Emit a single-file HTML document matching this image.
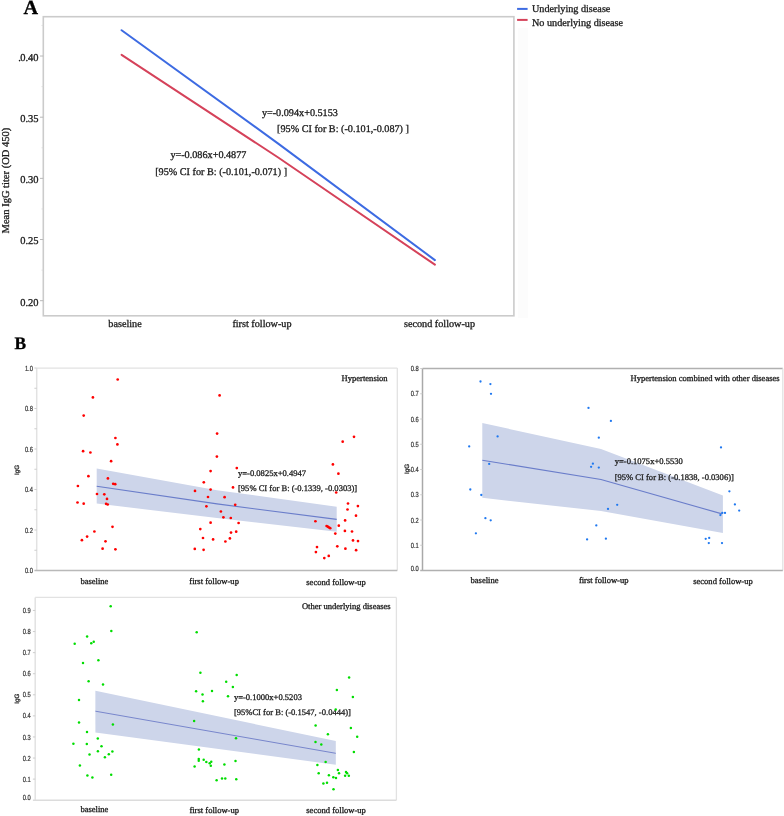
<!DOCTYPE html>
<html><head><meta charset="utf-8"><title>Figure</title>
<style>
html,body{margin:0;padding:0;background:#fff;}
body{width:784px;height:816px;overflow:hidden;font-family:"Liberation Serif", serif;}
svg{display:block;will-change:transform;}
text{text-rendering:geometricPrecision;}
</style></head>
<body>
<svg width="784" height="816" viewBox="0 0 784 816">
<rect x="0" y="0" width="784" height="816" fill="#fff"/>
<rect x="518" y="28" width="10" height="290" fill="#fcfcfc"/>
<text x="23.6" y="13.8" font-family='"Liberation Serif", serif' font-size="20.2" font-weight="bold" text-anchor="start" fill="#000" stroke="#000" stroke-width="0.3" >A</text>
<rect x="43.3" y="16.7" width="470.59999999999997" height="299.1" fill="#fff" stroke="#cbcbcb" stroke-width="1.6"/>
<line x1="40.0" y1="300.7" x2="43.3" y2="300.7" stroke="#b8b8b8" stroke-width="1" />
<line x1="41.5" y1="270.115" x2="43.3" y2="270.115" stroke="#d8d8d8" stroke-width="0.8" />
<line x1="40.0" y1="239.53" x2="43.3" y2="239.53" stroke="#b8b8b8" stroke-width="1" />
<line x1="41.5" y1="208.945" x2="43.3" y2="208.945" stroke="#d8d8d8" stroke-width="0.8" />
<line x1="40.0" y1="178.35999999999996" x2="43.3" y2="178.35999999999996" stroke="#b8b8b8" stroke-width="1" />
<line x1="41.5" y1="147.77499999999998" x2="43.3" y2="147.77499999999998" stroke="#d8d8d8" stroke-width="0.8" />
<line x1="40.0" y1="117.18999999999997" x2="43.3" y2="117.18999999999997" stroke="#b8b8b8" stroke-width="1" />
<line x1="41.5" y1="86.60500000000002" x2="43.3" y2="86.60500000000002" stroke="#d8d8d8" stroke-width="0.8" />
<line x1="40.0" y1="56.01999999999998" x2="43.3" y2="56.01999999999998" stroke="#b8b8b8" stroke-width="1" />
<line x1="41.5" y1="25.435000000000002" x2="43.3" y2="25.435000000000002" stroke="#d8d8d8" stroke-width="0.8" />
<text x="38.5" y="305.6" font-family='"Liberation Serif", serif' font-size="10.5" font-weight="normal" text-anchor="end" fill="#1a1a1a" stroke="#1a1a1a" stroke-width="0.3" >0.20</text>
<text x="38.5" y="244.43" font-family='"Liberation Serif", serif' font-size="10.5" font-weight="normal" text-anchor="end" fill="#1a1a1a" stroke="#1a1a1a" stroke-width="0.3" >0.25</text>
<text x="38.5" y="183.26" font-family='"Liberation Serif", serif' font-size="10.5" font-weight="normal" text-anchor="end" fill="#1a1a1a" stroke="#1a1a1a" stroke-width="0.3" >0.30</text>
<text x="38.5" y="122.09" font-family='"Liberation Serif", serif' font-size="10.5" font-weight="normal" text-anchor="end" fill="#1a1a1a" stroke="#1a1a1a" stroke-width="0.3" >0.35</text>
<text x="38.5" y="60.92" font-family='"Liberation Serif", serif' font-size="10.5" font-weight="normal" text-anchor="end" fill="#1a1a1a" stroke="#1a1a1a" stroke-width="0.3" >0.40</text>
<text x="18.3" y="60.92" font-family='"Liberation Serif", serif' font-size="10.5" font-weight="normal" text-anchor="start" fill="#1a1a1a" stroke="#1a1a1a" stroke-width="0.3" >.</text>
<text transform="translate(8.5,180.6) rotate(-90)" x="0" y="0" font-family='"Liberation Serif", serif' font-size="10.5" text-anchor="middle" fill="#1a1a1a" stroke="#1a1a1a" stroke-width="0.3">Mean IgG titer (OD 450)</text>
<text x="108.3" y="327.2" font-family='"Liberation Serif", serif' font-size="10.2" font-weight="normal" text-anchor="start" fill="#1a1a1a" stroke="#1a1a1a" stroke-width="0.3" >baseline</text>
<text x="232.4" y="327.2" font-family='"Liberation Serif", serif' font-size="10.2" font-weight="normal" text-anchor="start" fill="#1a1a1a" stroke="#1a1a1a" stroke-width="0.3" >first follow-up</text>
<text x="404.0" y="327.2" font-family='"Liberation Serif", serif' font-size="10.2" font-weight="normal" text-anchor="start" fill="#1a1a1a" stroke="#1a1a1a" stroke-width="0.3" >second follow-up</text>
<polyline points="121.6,30.2 278.2,143.6 434.9,260.1" fill="none" stroke="#3d6be2" stroke-width="2" stroke-linecap="round" stroke-linejoin="round"/>
<polyline points="121.6,54.8 278.2,157.5 434.9,264.7" fill="none" stroke="#d5425a" stroke-width="2" stroke-linecap="round" stroke-linejoin="round"/>
<text x="261.9" y="116.3" font-family='"Liberation Serif", serif' font-size="10.2" font-weight="normal" text-anchor="start" fill="#1a1a1a" stroke="#1a1a1a" stroke-width="0.3" >y=-0.094x+0.5153</text>
<text x="277.1" y="131.9" font-family='"Liberation Serif", serif' font-size="10.2" font-weight="normal" text-anchor="start" fill="#1a1a1a" stroke="#1a1a1a" stroke-width="0.3" >[95% CI for B: (-0.101,-0.087) ]</text>
<text x="170.4" y="157.6" font-family='"Liberation Serif", serif' font-size="10.2" font-weight="normal" text-anchor="start" fill="#1a1a1a" stroke="#1a1a1a" stroke-width="0.3" >y=-0.086x+0.4877</text>
<text x="155.2" y="175.1" font-family='"Liberation Serif", serif' font-size="10.2" font-weight="normal" text-anchor="start" fill="#1a1a1a" stroke="#1a1a1a" stroke-width="0.3" >[95% CI for B: (-0.101,-0.071) ]</text>
<line x1="517.1" y1="8.9" x2="527.6" y2="8.9" stroke="#3d6be2" stroke-width="2" />
<line x1="517.1" y1="19.9" x2="527.6" y2="19.9" stroke="#d5425a" stroke-width="2" />
<text x="532.0" y="12.4" font-family='"Liberation Serif", serif' font-size="10.2" font-weight="normal" text-anchor="start" fill="#1a1a1a" stroke="#1a1a1a" stroke-width="0.3" >Underlying disease</text>
<text x="532.0" y="26.0" font-family='"Liberation Serif", serif' font-size="10.2" font-weight="normal" text-anchor="start" fill="#1a1a1a" stroke="#1a1a1a" stroke-width="0.3" >No underlying disease</text>
<text x="14.6" y="349.3" font-family='"Liberation Serif", serif' font-size="17.4" font-weight="bold" text-anchor="start" fill="#000" stroke="#000" stroke-width="0.3" >B</text>
<rect x="36.7" y="368.1" width="360.6" height="202.29999999999995" fill="#fff"/>
<polygon points="96.7,468.6 217,490.2 336.7,506.8 336.7,531.7 217,517.9 96.7,503.6" fill="#cdd5ea" />
<polyline points="96.7,486.3 217,503.9 336.7,519.4" fill="none" stroke="#6a7dca" stroke-width="1.1" />
<line x1="36.7" y1="368.1" x2="397.3" y2="368.1" stroke="#e2e2e2" stroke-width="1.3" />
<line x1="397.3" y1="368.1" x2="397.3" y2="570.4" stroke="#e2e2e2" stroke-width="1.3" />
<line x1="36.7" y1="368.1" x2="36.7" y2="570.4" stroke="#e2e2e2" stroke-width="1.5" />
<line x1="34.400000000000006" y1="570.4" x2="397.3" y2="570.4" stroke="#b9b9b9" stroke-width="1.5" />
<text transform="translate(32.9,573.1) scale(0.78,1)" x="0" y="0" font-family='"Liberation Sans", sans-serif' font-size="7.4" text-anchor="end" fill="#333" stroke="#333" stroke-width="0.2" text-rendering="geometricPrecision">0.0</text>
<line x1="34.400000000000006" y1="550.25" x2="36.7" y2="550.25" stroke="#c8c8c8" stroke-width="0.9" />
<line x1="34.400000000000006" y1="530.0" x2="36.7" y2="530.0" stroke="#c8c8c8" stroke-width="0.9" />
<text transform="translate(32.9,532.6) scale(0.78,1)" x="0" y="0" font-family='"Liberation Sans", sans-serif' font-size="7.4" text-anchor="end" fill="#333" stroke="#333" stroke-width="0.2" text-rendering="geometricPrecision">0.2</text>
<line x1="34.400000000000006" y1="509.75" x2="36.7" y2="509.75" stroke="#c8c8c8" stroke-width="0.9" />
<line x1="34.400000000000006" y1="489.5" x2="36.7" y2="489.5" stroke="#c8c8c8" stroke-width="0.9" />
<text transform="translate(32.9,492.1) scale(0.78,1)" x="0" y="0" font-family='"Liberation Sans", sans-serif' font-size="7.4" text-anchor="end" fill="#333" stroke="#333" stroke-width="0.2" text-rendering="geometricPrecision">0.4</text>
<line x1="34.400000000000006" y1="469.25" x2="36.7" y2="469.25" stroke="#c8c8c8" stroke-width="0.9" />
<line x1="34.400000000000006" y1="449.0" x2="36.7" y2="449.0" stroke="#c8c8c8" stroke-width="0.9" />
<text transform="translate(32.9,451.6) scale(0.78,1)" x="0" y="0" font-family='"Liberation Sans", sans-serif' font-size="7.4" text-anchor="end" fill="#333" stroke="#333" stroke-width="0.2" text-rendering="geometricPrecision">0.6</text>
<line x1="34.400000000000006" y1="428.75" x2="36.7" y2="428.75" stroke="#c8c8c8" stroke-width="0.9" />
<line x1="34.400000000000006" y1="408.5" x2="36.7" y2="408.5" stroke="#c8c8c8" stroke-width="0.9" />
<text transform="translate(32.9,411.1) scale(0.78,1)" x="0" y="0" font-family='"Liberation Sans", sans-serif' font-size="7.4" text-anchor="end" fill="#333" stroke="#333" stroke-width="0.2" text-rendering="geometricPrecision">0.8</text>
<line x1="34.400000000000006" y1="388.25" x2="36.7" y2="388.25" stroke="#c8c8c8" stroke-width="0.9" />
<line x1="34.400000000000006" y1="368.0" x2="36.7" y2="368.0" stroke="#c8c8c8" stroke-width="0.9" />
<text transform="translate(32.9,370.6) scale(0.78,1)" x="0" y="0" font-family='"Liberation Sans", sans-serif' font-size="7.4" text-anchor="end" fill="#333" stroke="#333" stroke-width="0.2" text-rendering="geometricPrecision">1.0</text>
<text transform="translate(18.5,469.8) rotate(-90)" x="0" y="0" font-family='"Liberation Sans", sans-serif' font-size="6.3" text-anchor="middle" fill="#222" stroke="#222" stroke-width="0.25">IgG</text>
<text x="80.4" y="584.2" font-family='"Liberation Serif", serif' font-size="8.55" font-weight="normal" text-anchor="start" fill="#1a1a1a" stroke="#1a1a1a" stroke-width="0.3" >baseline</text>
<text x="189.3" y="584.2" font-family='"Liberation Serif", serif' font-size="8.55" font-weight="normal" text-anchor="start" fill="#1a1a1a" stroke="#1a1a1a" stroke-width="0.3" >first follow-up</text>
<text x="306.3" y="584.6" font-family='"Liberation Serif", serif' font-size="8.55" font-weight="normal" text-anchor="start" fill="#1a1a1a" stroke="#1a1a1a" stroke-width="0.3" >second follow-up</text>
<text x="341.6" y="381.1" font-family='"Liberation Serif", serif' font-size="8.55" font-weight="normal" text-anchor="start" fill="#1a1a1a" stroke="#1a1a1a" stroke-width="0.3" >Hypertension</text>
<text x="238.0" y="476.4" font-family='"Liberation Serif", serif' font-size="8.55" font-weight="normal" text-anchor="start" fill="#222" stroke="#222" stroke-width="0.3" >y=-0.0825x+0.4947</text>
<text x="238.0" y="491.2" font-family='"Liberation Serif", serif' font-size="8.55" font-weight="normal" text-anchor="start" fill="#222" stroke="#222" stroke-width="0.3" >[95% CI for B: (-0.1339, -0.0303)]</text>
<circle cx="117.7" cy="379.5" r="1.35" fill="#ff0000"/>
<circle cx="92.9" cy="397.4" r="1.35" fill="#ff0000"/>
<circle cx="83.7" cy="415.6" r="1.35" fill="#ff0000"/>
<circle cx="115.4" cy="438" r="1.35" fill="#ff0000"/>
<circle cx="117.4" cy="444.4" r="1.35" fill="#ff0000"/>
<circle cx="83.1" cy="451.2" r="1.35" fill="#ff0000"/>
<circle cx="90.4" cy="452.5" r="1.35" fill="#ff0000"/>
<circle cx="111.1" cy="461.2" r="1.35" fill="#ff0000"/>
<circle cx="88.4" cy="476.2" r="1.35" fill="#ff0000"/>
<circle cx="107.9" cy="478.4" r="1.35" fill="#ff0000"/>
<circle cx="113.2" cy="483.8" r="1.35" fill="#ff0000"/>
<circle cx="115.2" cy="484.2" r="1.35" fill="#ff0000"/>
<circle cx="77.9" cy="486" r="1.35" fill="#ff0000"/>
<circle cx="97" cy="494" r="1.35" fill="#ff0000"/>
<circle cx="104.3" cy="494.3" r="1.35" fill="#ff0000"/>
<circle cx="107" cy="498.9" r="1.35" fill="#ff0000"/>
<circle cx="77.5" cy="502.5" r="1.35" fill="#ff0000"/>
<circle cx="83.7" cy="503.7" r="1.35" fill="#ff0000"/>
<circle cx="106.1" cy="503.8" r="1.35" fill="#ff0000"/>
<circle cx="107.7" cy="504.5" r="1.35" fill="#ff0000"/>
<circle cx="112.5" cy="526.8" r="1.35" fill="#ff0000"/>
<circle cx="94.4" cy="531.5" r="1.35" fill="#ff0000"/>
<circle cx="87.1" cy="536.6" r="1.35" fill="#ff0000"/>
<circle cx="81.9" cy="540.2" r="1.35" fill="#ff0000"/>
<circle cx="105.5" cy="541.3" r="1.35" fill="#ff0000"/>
<circle cx="102.6" cy="548.7" r="1.35" fill="#ff0000"/>
<circle cx="115.4" cy="549.3" r="1.35" fill="#ff0000"/>
<circle cx="219.6" cy="395.4" r="1.35" fill="#ff0000"/>
<circle cx="217.1" cy="433.6" r="1.35" fill="#ff0000"/>
<circle cx="216.9" cy="456.6" r="1.35" fill="#ff0000"/>
<circle cx="236.8" cy="468.1" r="1.35" fill="#ff0000"/>
<circle cx="210.6" cy="471.1" r="1.35" fill="#ff0000"/>
<circle cx="203.8" cy="482.3" r="1.35" fill="#ff0000"/>
<circle cx="233" cy="487.4" r="1.35" fill="#ff0000"/>
<circle cx="195" cy="490.9" r="1.35" fill="#ff0000"/>
<circle cx="210.6" cy="489.6" r="1.35" fill="#ff0000"/>
<circle cx="208" cy="497" r="1.35" fill="#ff0000"/>
<circle cx="224.6" cy="497.2" r="1.35" fill="#ff0000"/>
<circle cx="235.2" cy="504.8" r="1.35" fill="#ff0000"/>
<circle cx="206.4" cy="506.3" r="1.35" fill="#ff0000"/>
<circle cx="220.9" cy="511.5" r="1.35" fill="#ff0000"/>
<circle cx="223.4" cy="517.3" r="1.35" fill="#ff0000"/>
<circle cx="230.8" cy="518" r="1.35" fill="#ff0000"/>
<circle cx="210.6" cy="522.7" r="1.35" fill="#ff0000"/>
<circle cx="238.6" cy="523" r="1.35" fill="#ff0000"/>
<circle cx="200.3" cy="529.1" r="1.35" fill="#ff0000"/>
<circle cx="236.2" cy="531.7" r="1.35" fill="#ff0000"/>
<circle cx="231" cy="532.6" r="1.35" fill="#ff0000"/>
<circle cx="203" cy="538" r="1.35" fill="#ff0000"/>
<circle cx="213.1" cy="539.4" r="1.35" fill="#ff0000"/>
<circle cx="229.9" cy="538.4" r="1.35" fill="#ff0000"/>
<circle cx="225.4" cy="541.5" r="1.35" fill="#ff0000"/>
<circle cx="194.8" cy="548.9" r="1.35" fill="#ff0000"/>
<circle cx="203.6" cy="549.8" r="1.35" fill="#ff0000"/>
<circle cx="354" cy="436.8" r="1.35" fill="#ff0000"/>
<circle cx="342.7" cy="441.7" r="1.35" fill="#ff0000"/>
<circle cx="332.9" cy="464.4" r="1.35" fill="#ff0000"/>
<circle cx="338.4" cy="473.7" r="1.35" fill="#ff0000"/>
<circle cx="336.2" cy="492.5" r="1.35" fill="#ff0000"/>
<circle cx="348" cy="503.5" r="1.35" fill="#ff0000"/>
<circle cx="357.9" cy="506.1" r="1.35" fill="#ff0000"/>
<circle cx="347.5" cy="509.5" r="1.35" fill="#ff0000"/>
<circle cx="356" cy="515.7" r="1.35" fill="#ff0000"/>
<circle cx="345.1" cy="520.4" r="1.35" fill="#ff0000"/>
<circle cx="315.4" cy="521.25" r="1.35" fill="#ff0000"/>
<circle cx="338.8" cy="525.7" r="1.35" fill="#ff0000"/>
<circle cx="326.6" cy="526" r="1.35" fill="#ff0000"/>
<circle cx="327.7" cy="526.6" r="1.35" fill="#ff0000"/>
<circle cx="328.75" cy="527.3" r="1.35" fill="#ff0000"/>
<circle cx="330.2" cy="528.2" r="1.35" fill="#ff0000"/>
<circle cx="344.9" cy="530.9" r="1.35" fill="#ff0000"/>
<circle cx="352" cy="531.5" r="1.35" fill="#ff0000"/>
<circle cx="335.3" cy="533.6" r="1.35" fill="#ff0000"/>
<circle cx="353" cy="540.4" r="1.35" fill="#ff0000"/>
<circle cx="358" cy="541.1" r="1.35" fill="#ff0000"/>
<circle cx="317" cy="547.1" r="1.35" fill="#ff0000"/>
<circle cx="337.3" cy="546.3" r="1.35" fill="#ff0000"/>
<circle cx="345.4" cy="548.7" r="1.35" fill="#ff0000"/>
<circle cx="356.1" cy="550.2" r="1.35" fill="#ff0000"/>
<circle cx="315.9" cy="552.1" r="1.35" fill="#ff0000"/>
<circle cx="324.3" cy="558.1" r="1.35" fill="#ff0000"/>
<circle cx="328.75" cy="555.9" r="1.35" fill="#ff0000"/>
<rect x="422.5" y="368.5" width="360.29999999999995" height="201.89999999999998" fill="#fff"/>
<polygon points="482.3,423 601,449 722.9,495.5 722.9,532.9 601,511 482.3,497.8" fill="#cdd5ea" />
<polyline points="482.3,460.2 601,479.5 722,513.9" fill="none" stroke="#6a7dca" stroke-width="1.1" />
<line x1="422.5" y1="368.5" x2="782.8" y2="368.5" stroke="#b0b0b0" stroke-width="1.3" />
<line x1="782.8" y1="368.5" x2="782.8" y2="570.4" stroke="#e2e2e2" stroke-width="1.3" />
<line x1="422.5" y1="368.5" x2="422.5" y2="570.4" stroke="#a9a9a9" stroke-width="1.5" />
<line x1="420.2" y1="570.4" x2="782.8" y2="570.4" stroke="#b0b0b0" stroke-width="1.5" />
<text transform="translate(418.7,571.3) scale(0.78,1)" x="0" y="0" font-family='"Liberation Sans", sans-serif' font-size="7.4" text-anchor="end" fill="#333" stroke="#333" stroke-width="0.2" text-rendering="geometricPrecision">0.0</text>
<line x1="420.2" y1="545.25" x2="422.5" y2="545.25" stroke="#c8c8c8" stroke-width="0.9" />
<text transform="translate(418.7,547.85) scale(0.78,1)" x="0" y="0" font-family='"Liberation Sans", sans-serif' font-size="7.4" text-anchor="end" fill="#333" stroke="#333" stroke-width="0.2" text-rendering="geometricPrecision">0.1</text>
<line x1="420.2" y1="520.0" x2="422.5" y2="520.0" stroke="#c8c8c8" stroke-width="0.9" />
<text transform="translate(418.7,522.6) scale(0.78,1)" x="0" y="0" font-family='"Liberation Sans", sans-serif' font-size="7.4" text-anchor="end" fill="#333" stroke="#333" stroke-width="0.2" text-rendering="geometricPrecision">0.2</text>
<line x1="420.2" y1="494.75" x2="422.5" y2="494.75" stroke="#c8c8c8" stroke-width="0.9" />
<text transform="translate(418.7,497.35) scale(0.78,1)" x="0" y="0" font-family='"Liberation Sans", sans-serif' font-size="7.4" text-anchor="end" fill="#333" stroke="#333" stroke-width="0.2" text-rendering="geometricPrecision">0.3</text>
<line x1="420.2" y1="469.5" x2="422.5" y2="469.5" stroke="#c8c8c8" stroke-width="0.9" />
<text transform="translate(418.7,472.1) scale(0.78,1)" x="0" y="0" font-family='"Liberation Sans", sans-serif' font-size="7.4" text-anchor="end" fill="#333" stroke="#333" stroke-width="0.2" text-rendering="geometricPrecision">0.4</text>
<line x1="420.2" y1="444.25" x2="422.5" y2="444.25" stroke="#c8c8c8" stroke-width="0.9" />
<text transform="translate(418.7,446.85) scale(0.78,1)" x="0" y="0" font-family='"Liberation Sans", sans-serif' font-size="7.4" text-anchor="end" fill="#333" stroke="#333" stroke-width="0.2" text-rendering="geometricPrecision">0.5</text>
<line x1="420.2" y1="419.0" x2="422.5" y2="419.0" stroke="#c8c8c8" stroke-width="0.9" />
<text transform="translate(418.7,421.6) scale(0.78,1)" x="0" y="0" font-family='"Liberation Sans", sans-serif' font-size="7.4" text-anchor="end" fill="#333" stroke="#333" stroke-width="0.2" text-rendering="geometricPrecision">0.6</text>
<line x1="420.2" y1="393.75" x2="422.5" y2="393.75" stroke="#c8c8c8" stroke-width="0.9" />
<text transform="translate(418.7,396.35) scale(0.78,1)" x="0" y="0" font-family='"Liberation Sans", sans-serif' font-size="7.4" text-anchor="end" fill="#333" stroke="#333" stroke-width="0.2" text-rendering="geometricPrecision">0.7</text>
<line x1="420.2" y1="368.5" x2="422.5" y2="368.5" stroke="#c8c8c8" stroke-width="0.9" />
<text transform="translate(418.7,371.1) scale(0.78,1)" x="0" y="0" font-family='"Liberation Sans", sans-serif' font-size="7.4" text-anchor="end" fill="#333" stroke="#333" stroke-width="0.2" text-rendering="geometricPrecision">0.8</text>
<text transform="translate(408.5,469.0) rotate(-90)" x="0" y="0" font-family='"Liberation Sans", sans-serif' font-size="6.3" text-anchor="middle" fill="#222" stroke="#222" stroke-width="0.25">IgG</text>
<text x="470.5" y="583.4" font-family='"Liberation Serif", serif' font-size="8.55" font-weight="normal" text-anchor="start" fill="#1a1a1a" stroke="#1a1a1a" stroke-width="0.3" >baseline</text>
<text x="578.9" y="583.4" font-family='"Liberation Serif", serif' font-size="8.55" font-weight="normal" text-anchor="start" fill="#1a1a1a" stroke="#1a1a1a" stroke-width="0.3" >first follow-up</text>
<text x="693.2" y="584.0" font-family='"Liberation Serif", serif' font-size="8.55" font-weight="normal" text-anchor="start" fill="#1a1a1a" stroke="#1a1a1a" stroke-width="0.3" >second follow-up</text>
<text x="630.6" y="381.3" font-family='"Liberation Serif", serif' font-size="8.55" font-weight="normal" text-anchor="start" fill="#1a1a1a" stroke="#1a1a1a" stroke-width="0.3" >Hypertension combined with other diseases</text>
<text x="614.7" y="464.2" font-family='"Liberation Serif", serif' font-size="8.55" font-weight="normal" text-anchor="start" fill="#222" stroke="#222" stroke-width="0.3" >y=-0.1075x+0.5530</text>
<text x="614.7" y="480.2" font-family='"Liberation Serif", serif' font-size="8.55" font-weight="normal" text-anchor="start" fill="#222" stroke="#222" stroke-width="0.3" >[95% CI for B: (-0.1838, -0.0306)]</text>
<circle cx="480.5" cy="381.5" r="1.15" fill="#1f78f0"/>
<circle cx="490.4" cy="384.1" r="1.15" fill="#1f78f0"/>
<circle cx="491" cy="393.8" r="1.15" fill="#1f78f0"/>
<circle cx="497.6" cy="436.4" r="1.15" fill="#1f78f0"/>
<circle cx="469.2" cy="446.4" r="1.15" fill="#1f78f0"/>
<circle cx="489.2" cy="463.9" r="1.15" fill="#1f78f0"/>
<circle cx="470.3" cy="489.5" r="1.15" fill="#1f78f0"/>
<circle cx="481.3" cy="495" r="1.15" fill="#1f78f0"/>
<circle cx="485.4" cy="518.2" r="1.15" fill="#1f78f0"/>
<circle cx="490.7" cy="520.3" r="1.15" fill="#1f78f0"/>
<circle cx="475.9" cy="533.3" r="1.15" fill="#1f78f0"/>
<circle cx="588.5" cy="407.9" r="1.15" fill="#1f78f0"/>
<circle cx="610.9" cy="420.9" r="1.15" fill="#1f78f0"/>
<circle cx="598.8" cy="437.7" r="1.15" fill="#1f78f0"/>
<circle cx="592.9" cy="463.7" r="1.15" fill="#1f78f0"/>
<circle cx="591.1" cy="466.8" r="1.15" fill="#1f78f0"/>
<circle cx="598.8" cy="467.6" r="1.15" fill="#1f78f0"/>
<circle cx="617.2" cy="504.8" r="1.15" fill="#1f78f0"/>
<circle cx="608" cy="508.9" r="1.15" fill="#1f78f0"/>
<circle cx="596.3" cy="525.4" r="1.15" fill="#1f78f0"/>
<circle cx="587.1" cy="539.4" r="1.15" fill="#1f78f0"/>
<circle cx="605.9" cy="538.7" r="1.15" fill="#1f78f0"/>
<circle cx="721" cy="447.4" r="1.15" fill="#1f78f0"/>
<circle cx="729.4" cy="491.3" r="1.15" fill="#1f78f0"/>
<circle cx="734.9" cy="504.4" r="1.15" fill="#1f78f0"/>
<circle cx="739.2" cy="510.6" r="1.15" fill="#1f78f0"/>
<circle cx="722.3" cy="512.9" r="1.15" fill="#1f78f0"/>
<circle cx="725" cy="512.9" r="1.15" fill="#1f78f0"/>
<circle cx="720.4" cy="515.1" r="1.15" fill="#1f78f0"/>
<circle cx="705.7" cy="538.8" r="1.15" fill="#1f78f0"/>
<circle cx="709.2" cy="537.9" r="1.15" fill="#1f78f0"/>
<circle cx="708.8" cy="543.1" r="1.15" fill="#1f78f0"/>
<circle cx="722" cy="543.1" r="1.15" fill="#1f78f0"/>
<rect x="35.2" y="597.4" width="361.2" height="202.80000000000007" fill="#fff"/>
<polygon points="95.4,690.7 335.8,741 335.8,764.8 95.4,732.4" fill="#cdd5ea" />
<polyline points="95.4,711.2 335.8,753.3" fill="none" stroke="#7886cc" stroke-width="1.0" />
<line x1="35.2" y1="597.4" x2="396.4" y2="597.4" stroke="#e2e2e2" stroke-width="1.3" />
<line x1="396.4" y1="597.4" x2="396.4" y2="800.2" stroke="#e2e2e2" stroke-width="1.3" />
<line x1="35.2" y1="597.4" x2="35.2" y2="800.2" stroke="#e2e2e2" stroke-width="1.5" />
<line x1="32.900000000000006" y1="800.2" x2="396.4" y2="800.2" stroke="#dcdcdc" stroke-width="1.5" />
<text transform="translate(30.8,800.0) scale(0.78,1)" x="0" y="0" font-family='"Liberation Sans", sans-serif' font-size="7.4" text-anchor="end" fill="#333" stroke="#333" stroke-width="0.2" text-rendering="geometricPrecision">0.0</text>
<line x1="32.900000000000006" y1="779.12" x2="35.2" y2="779.12" stroke="#c8c8c8" stroke-width="0.9" />
<text transform="translate(30.8,781.72) scale(0.78,1)" x="0" y="0" font-family='"Liberation Sans", sans-serif' font-size="7.4" text-anchor="end" fill="#333" stroke="#333" stroke-width="0.2" text-rendering="geometricPrecision">0.1</text>
<line x1="32.900000000000006" y1="758.0400000000001" x2="35.2" y2="758.0400000000001" stroke="#c8c8c8" stroke-width="0.9" />
<text transform="translate(30.8,760.64) scale(0.78,1)" x="0" y="0" font-family='"Liberation Sans", sans-serif' font-size="7.4" text-anchor="end" fill="#333" stroke="#333" stroke-width="0.2" text-rendering="geometricPrecision">0.2</text>
<line x1="32.900000000000006" y1="736.96" x2="35.2" y2="736.96" stroke="#c8c8c8" stroke-width="0.9" />
<text transform="translate(30.8,739.56) scale(0.78,1)" x="0" y="0" font-family='"Liberation Sans", sans-serif' font-size="7.4" text-anchor="end" fill="#333" stroke="#333" stroke-width="0.2" text-rendering="geometricPrecision">0.3</text>
<line x1="32.900000000000006" y1="715.88" x2="35.2" y2="715.88" stroke="#c8c8c8" stroke-width="0.9" />
<text transform="translate(30.8,718.48) scale(0.78,1)" x="0" y="0" font-family='"Liberation Sans", sans-serif' font-size="7.4" text-anchor="end" fill="#333" stroke="#333" stroke-width="0.2" text-rendering="geometricPrecision">0.4</text>
<line x1="32.900000000000006" y1="694.8000000000001" x2="35.2" y2="694.8000000000001" stroke="#c8c8c8" stroke-width="0.9" />
<text transform="translate(30.8,697.4) scale(0.78,1)" x="0" y="0" font-family='"Liberation Sans", sans-serif' font-size="7.4" text-anchor="end" fill="#333" stroke="#333" stroke-width="0.2" text-rendering="geometricPrecision">0.5</text>
<line x1="32.900000000000006" y1="673.72" x2="35.2" y2="673.72" stroke="#c8c8c8" stroke-width="0.9" />
<text transform="translate(30.8,676.32) scale(0.78,1)" x="0" y="0" font-family='"Liberation Sans", sans-serif' font-size="7.4" text-anchor="end" fill="#333" stroke="#333" stroke-width="0.2" text-rendering="geometricPrecision">0.6</text>
<line x1="32.900000000000006" y1="652.64" x2="35.2" y2="652.64" stroke="#c8c8c8" stroke-width="0.9" />
<text transform="translate(30.8,655.24) scale(0.78,1)" x="0" y="0" font-family='"Liberation Sans", sans-serif' font-size="7.4" text-anchor="end" fill="#333" stroke="#333" stroke-width="0.2" text-rendering="geometricPrecision">0.7</text>
<line x1="32.900000000000006" y1="631.5600000000001" x2="35.2" y2="631.5600000000001" stroke="#c8c8c8" stroke-width="0.9" />
<text transform="translate(30.8,634.16) scale(0.78,1)" x="0" y="0" font-family='"Liberation Sans", sans-serif' font-size="7.4" text-anchor="end" fill="#333" stroke="#333" stroke-width="0.2" text-rendering="geometricPrecision">0.8</text>
<line x1="32.900000000000006" y1="610.48" x2="35.2" y2="610.48" stroke="#c8c8c8" stroke-width="0.9" />
<text transform="translate(30.8,613.08) scale(0.78,1)" x="0" y="0" font-family='"Liberation Sans", sans-serif' font-size="7.4" text-anchor="end" fill="#333" stroke="#333" stroke-width="0.2" text-rendering="geometricPrecision">0.9</text>
<text transform="translate(19.3,698.6) rotate(-90)" x="0" y="0" font-family='"Liberation Sans", sans-serif' font-size="6.3" text-anchor="middle" fill="#222" stroke="#222" stroke-width="0.25">IgG</text>
<text x="80.4" y="811.8" font-family='"Liberation Serif", serif' font-size="8.55" font-weight="normal" text-anchor="start" fill="#1a1a1a" stroke="#1a1a1a" stroke-width="0.3" >baseline</text>
<text x="189.4" y="812.6" font-family='"Liberation Serif", serif' font-size="8.55" font-weight="normal" text-anchor="start" fill="#1a1a1a" stroke="#1a1a1a" stroke-width="0.3" >first follow-up</text>
<text x="306.3" y="813.0" font-family='"Liberation Serif", serif' font-size="8.55" font-weight="normal" text-anchor="start" fill="#1a1a1a" stroke="#1a1a1a" stroke-width="0.3" >second follow-up</text>
<text x="301.9" y="608.9" font-family='"Liberation Serif", serif' font-size="8.55" font-weight="normal" text-anchor="start" fill="#1a1a1a" stroke="#1a1a1a" stroke-width="0.3" >Other underlying diseases</text>
<text x="233.9" y="699.5" font-family='"Liberation Serif", serif' font-size="8.55" font-weight="normal" text-anchor="start" fill="#222" stroke="#222" stroke-width="0.3" >y=-0.1000x+0.5203</text>
<text x="233.9" y="714.8" font-family='"Liberation Serif", serif' font-size="8.55" font-weight="normal" text-anchor="start" fill="#222" stroke="#222" stroke-width="0.3" >[95%CI for B: (-0.1547, -0.0444)]</text>
<circle cx="110.7" cy="606.2" r="1.25" fill="#00dd00"/>
<circle cx="111.3" cy="630.9" r="1.25" fill="#00dd00"/>
<circle cx="87.1" cy="636.6" r="1.25" fill="#00dd00"/>
<circle cx="74.7" cy="643.7" r="1.25" fill="#00dd00"/>
<circle cx="91.25" cy="643.3" r="1.25" fill="#00dd00"/>
<circle cx="93.75" cy="641.75" r="1.25" fill="#00dd00"/>
<circle cx="83" cy="662.9" r="1.25" fill="#00dd00"/>
<circle cx="98.4" cy="660.3" r="1.25" fill="#00dd00"/>
<circle cx="88.6" cy="681.2" r="1.25" fill="#00dd00"/>
<circle cx="103" cy="684.6" r="1.25" fill="#00dd00"/>
<circle cx="79" cy="699.9" r="1.25" fill="#00dd00"/>
<circle cx="79" cy="722.5" r="1.25" fill="#00dd00"/>
<circle cx="112.9" cy="724.5" r="1.25" fill="#00dd00"/>
<circle cx="87" cy="731.9" r="1.25" fill="#00dd00"/>
<circle cx="97.8" cy="738.6" r="1.25" fill="#00dd00"/>
<circle cx="73.4" cy="743.75" r="1.25" fill="#00dd00"/>
<circle cx="86.8" cy="744" r="1.25" fill="#00dd00"/>
<circle cx="101.5" cy="746.25" r="1.25" fill="#00dd00"/>
<circle cx="97.9" cy="751.3" r="1.25" fill="#00dd00"/>
<circle cx="112.4" cy="751.5" r="1.25" fill="#00dd00"/>
<circle cx="89.5" cy="754.5" r="1.25" fill="#00dd00"/>
<circle cx="108.8" cy="754.3" r="1.25" fill="#00dd00"/>
<circle cx="104.9" cy="757.3" r="1.25" fill="#00dd00"/>
<circle cx="79.9" cy="765.6" r="1.25" fill="#00dd00"/>
<circle cx="87.4" cy="775.6" r="1.25" fill="#00dd00"/>
<circle cx="92.4" cy="777.5" r="1.25" fill="#00dd00"/>
<circle cx="111.2" cy="774.7" r="1.25" fill="#00dd00"/>
<circle cx="196.7" cy="632.3" r="1.25" fill="#00dd00"/>
<circle cx="200.4" cy="672.7" r="1.25" fill="#00dd00"/>
<circle cx="236.7" cy="675.1" r="1.25" fill="#00dd00"/>
<circle cx="226.2" cy="681.8" r="1.25" fill="#00dd00"/>
<circle cx="232.9" cy="687.1" r="1.25" fill="#00dd00"/>
<circle cx="196.1" cy="691.2" r="1.25" fill="#00dd00"/>
<circle cx="212" cy="690.9" r="1.25" fill="#00dd00"/>
<circle cx="202.5" cy="694.6" r="1.25" fill="#00dd00"/>
<circle cx="228" cy="696.3" r="1.25" fill="#00dd00"/>
<circle cx="202.9" cy="701.2" r="1.25" fill="#00dd00"/>
<circle cx="194.1" cy="721.1" r="1.25" fill="#00dd00"/>
<circle cx="236" cy="738.2" r="1.25" fill="#00dd00"/>
<circle cx="198.9" cy="749.5" r="1.25" fill="#00dd00"/>
<circle cx="198.75" cy="759" r="1.25" fill="#00dd00"/>
<circle cx="198.75" cy="760.7" r="1.25" fill="#00dd00"/>
<circle cx="203.7" cy="759.8" r="1.25" fill="#00dd00"/>
<circle cx="206.3" cy="761.9" r="1.25" fill="#00dd00"/>
<circle cx="211.25" cy="761.7" r="1.25" fill="#00dd00"/>
<circle cx="209.7" cy="763.2" r="1.25" fill="#00dd00"/>
<circle cx="210.8" cy="765.7" r="1.25" fill="#00dd00"/>
<circle cx="194.6" cy="766.5" r="1.25" fill="#00dd00"/>
<circle cx="224.4" cy="764.6" r="1.25" fill="#00dd00"/>
<circle cx="235.5" cy="761" r="1.25" fill="#00dd00"/>
<circle cx="216.6" cy="780.2" r="1.25" fill="#00dd00"/>
<circle cx="222" cy="778.4" r="1.25" fill="#00dd00"/>
<circle cx="225.3" cy="778.6" r="1.25" fill="#00dd00"/>
<circle cx="236.25" cy="779.3" r="1.25" fill="#00dd00"/>
<circle cx="349.1" cy="677.4" r="1.25" fill="#00dd00"/>
<circle cx="336.9" cy="690.1" r="1.25" fill="#00dd00"/>
<circle cx="352.9" cy="696.9" r="1.25" fill="#00dd00"/>
<circle cx="335.7" cy="709.6" r="1.25" fill="#00dd00"/>
<circle cx="315.6" cy="725.6" r="1.25" fill="#00dd00"/>
<circle cx="350.9" cy="727.9" r="1.25" fill="#00dd00"/>
<circle cx="327.9" cy="734.3" r="1.25" fill="#00dd00"/>
<circle cx="357.2" cy="736.8" r="1.25" fill="#00dd00"/>
<circle cx="315.5" cy="742" r="1.25" fill="#00dd00"/>
<circle cx="321.3" cy="744.5" r="1.25" fill="#00dd00"/>
<circle cx="353.9" cy="752.1" r="1.25" fill="#00dd00"/>
<circle cx="325.6" cy="761.9" r="1.25" fill="#00dd00"/>
<circle cx="317.4" cy="765.1" r="1.25" fill="#00dd00"/>
<circle cx="337.9" cy="769.9" r="1.25" fill="#00dd00"/>
<circle cx="318.7" cy="773.3" r="1.25" fill="#00dd00"/>
<circle cx="339" cy="773.3" r="1.25" fill="#00dd00"/>
<circle cx="346" cy="772.1" r="1.25" fill="#00dd00"/>
<circle cx="347.1" cy="773.2" r="1.25" fill="#00dd00"/>
<circle cx="328.9" cy="775.3" r="1.25" fill="#00dd00"/>
<circle cx="345.1" cy="775.7" r="1.25" fill="#00dd00"/>
<circle cx="348.8" cy="775.7" r="1.25" fill="#00dd00"/>
<circle cx="333.3" cy="777.3" r="1.25" fill="#00dd00"/>
<circle cx="336" cy="778" r="1.25" fill="#00dd00"/>
<circle cx="323.4" cy="783.4" r="1.25" fill="#00dd00"/>
<circle cx="327" cy="782.8" r="1.25" fill="#00dd00"/>
<circle cx="333.5" cy="789.2" r="1.25" fill="#00dd00"/>
</svg>
</body></html>
